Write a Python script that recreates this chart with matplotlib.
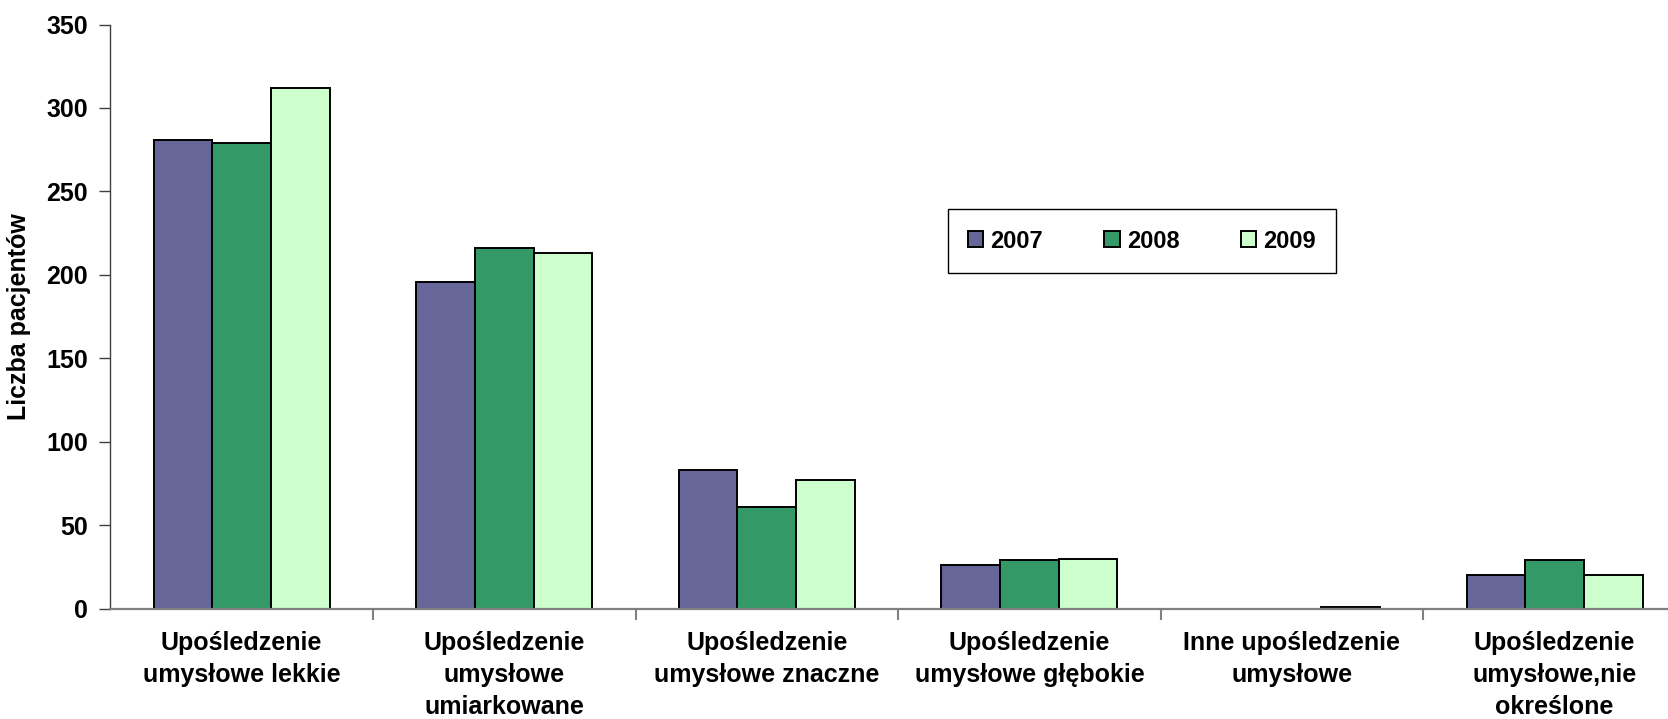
import matplotlib;
matplotlib.use("Agg");
import matplotlib.pyplot as plt;
import numpy as np;

categories = ["Upośledzenie\numysłowe lekkie",
              "Upośledzenie\numysłowe\numiarkowane",
              "Upośledzenie\numysłowe znaczne",
              "Upośledzenie\numysłowe głębokie",
              "Inne upośledzenie\numysłowe",
              "Upośledzenie\numysłowe,nie\nokreślone"];
years = ["2007", "2008", "2009"];
values2007 = [281, 196, 83, 26, 0, 20];
values2008 = [279, 216, 61, 29, 0, 29];
values2009 = [312, 213, 77, 30, 1, 20];
colors = ["#666699", "#339966", "#CCFFCC"];

plt.rcParams["font.family"] = ["Liberation Sans", "DejaVu Sans"];
plt.rcParams["font.weight"] = "bold";

fig = plt.figure(figsize = (16.68, 7.19), dpi = 100);
ax = fig.add_axes([110.3 / 1668, 1 - 608.7 / 719, 1575.6 / 1668, (608.7 - 24.5) / 719]);

x = np.arange(len(categories));
barWidth = 0.2235;
allValues = [values2007, values2008, values2009];
for i, vals in enumerate(allValues):
    ax.bar(x + (i - 1) * barWidth, vals, barWidth, color = colors[i],
           edgecolor = "black", linewidth = 1.4, label = years[i], zorder = 3);

ax.set_xlim(-0.5, len(categories) - 0.5);
ax.set_ylim(0, 350);
ax.set_yticks(np.arange(0, 351, 50));

# labels in the middle, small ticks between groups
ax.set_xticks(x);
ax.set_xticklabels(categories, fontsize = 18, fontweight = "bold", linespacing = 1.42);
ax.tick_params(axis = "x", which = "major", length = 0, pad = 16);
ax.set_xticks(np.arange(0.5, len(categories) - 0.5, 1), minor = True);
ax.tick_params(axis = "x", which = "minor", length = 8, width = 1.5, color = "#808080", direction = "out");
ax.tick_params(axis = "y", length = 8, width = 1, color = "#404040", labelsize = 18, pad = 8);
for lbl in ax.get_yticklabels():
    lbl.set_fontweight("bold");

ax.set_ylabel("Liczba pacjentów", fontsize = 18, fontweight = "bold", labelpad = 11);

ax.spines["top"].set_visible(False);
ax.spines["right"].set_visible(False);
ax.spines["left"].set_color("#404040");
ax.spines["left"].set_linewidth(1);
ax.spines["bottom"].set_color("#808080");
ax.spines["bottom"].set_linewidth(1.6);
ax.spines["bottom"].set_zorder(4);

leg = ax.legend(loc = "center", bbox_to_anchor = (1142 / 1668, 1 - 241 / 719),
                bbox_transform = fig.transFigure, ncol = 3, fontsize = 17,
                fancybox = False, shadow = False, framealpha = 1,
                handlelength = 0.65, handleheight = 0.65, handletextpad = 0.3,
                columnspacing = 2.6, borderpad = 0.85);
leg.get_frame().set_edgecolor("black");
leg.get_frame().set_linewidth(1);
for t in leg.get_texts():
    t.set_fontweight("bold");

plt.savefig("out.png", dpi = 100);
